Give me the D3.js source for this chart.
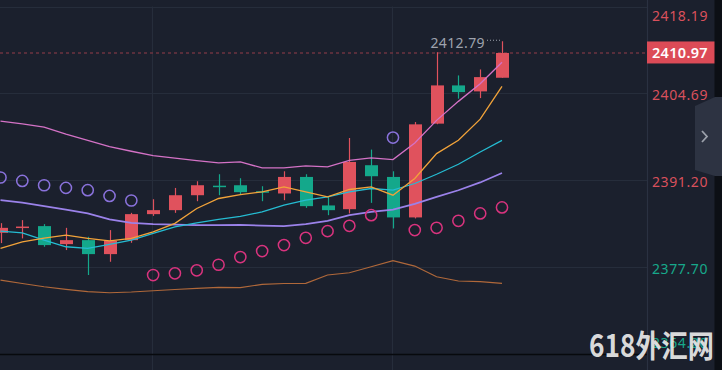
<!DOCTYPE html>
<html><head><meta charset="utf-8">
<script src="https://cdn.jsdelivr.net/npm/d3@7"></script>
<style>html,body{margin:0;padding:0;background:#1b202d;overflow:hidden}</style>
</head><body><svg id="c" width="722" height="370"></svg>
<script>
// ---- data ----
const categories = [0,1,2,3,4,5,6,7,8,9,10,11,12,13,14,15,16,17,18,19,20,21,22,23];
const open  = [2383.03,2383.90,2384.07,2381.27,2381.89,2379.72,2381.89,2385.93,2386.55,2388.87,2390.35,2390.42,2389.49,2389.14,2391.71,2387.28,2386.70,2393.53,2391.71,2385.42,2399.99,2405.93,2405.00,2407.12];
const high  = [2384.53,2385.00,2384.38,2383.80,2382.41,2383.45,2386.13,2388.25,2390.00,2391.04,2392.13,2391.51,2390.27,2392.59,2392.13,2388.61,2397.76,2395.96,2392.59,2400.24,2411.09,2407.48,2408.41,2412.79];
const low   = [2381.43,2382.16,2380.86,2380.35,2376.47,2378.53,2381.48,2385.66,2386.13,2387.94,2388.87,2389.03,2387.94,2388.10,2386.90,2385.77,2386.04,2387.68,2383.71,2385.26,2399.90,2403.87,2403.96,2407.12];
const close = [2383.80,2384.00,2381.12,2381.89,2379.72,2381.79,2385.93,2386.55,2388.87,2390.42,2390.22,2389.34,2389.36,2391.71,2387.17,2386.55,2394.04,2391.82,2385.42,2399.88,2405.93,2404.89,2407.22,2410.97];
const linePink   = [2400.39,2399.96,2399.46,2398.36,2397.40,2396.42,2395.70,2395.03,2394.64,2394.25,2393.88,2394.04,2393.11,2393.11,2393.42,2393.26,2394.30,2394.66,2394.41,2396.98,2400.50,2403.45,2406.19,2409.54];
const lineOrange = [2380.61,2381.63,2382.21,2382.67,2382.16,2381.79,2382.16,2383.18,2384.49,2386.81,2388.36,2388.95,2389.39,2390.16,2389.39,2388.61,2389.76,2390.16,2388.87,2391.46,2395.34,2397.40,2400.69,2405.77];
const lineCyan   = [2383.29,2383.03,2381.90,2380.86,2380.61,2381.23,2381.90,2382.93,2383.96,2384.58,2385.11,2385.57,2386.28,2387.32,2388.10,2388.61,2389.38,2389.91,2389.65,2390.69,2392.13,2393.68,2395.59,2397.40];
const linePurple = [2388.10,2387.71,2387.17,2386.62,2386.04,2385.11,2384.58,2384.38,2384.30,2384.22,2384.22,2384.25,2384.14,2384.07,2384.38,2384.89,2385.77,2386.28,2386.62,2387.52,2388.61,2389.65,2390.86,2392.33];
const lineBrown  = [2375.69,2375.15,2374.65,2374.25,2373.88,2373.72,2373.83,2374.03,2374.22,2374.41,2374.56,2374.50,2375.03,2375.15,2375.18,2376.47,2376.82,2377.76,2378.69,2377.86,2376.20,2375.54,2375.43,2375.18];
const sar        = [2391.62,2391.09,2390.42,2390.01,2389.65,2388.76,2388.05,2376.47,2376.73,2377.20,2378.07,2379.26,2380.19,2381.12,2382.25,2383.29,2384.11,2385.77,2397.82,2383.45,2383.80,2384.89,2386.04,2386.97];
const tickValues = [2418.19,2404.69,2391.20,2377.70,2364.20];
const tickLabels = ["2418.19","2404.69","2391.20","2377.70","2364.20"];
const lastPrice = 2410.97;
const highLabel = "2412.79";
const watermark = "618外汇网";

// ---- layout ----
const W = 722, H = 370, plotR = 647, plotT = 6.5, plotB = 354;
const svg = d3.select("#c");
const bg = "#1b202d", grid = "#262d3b";
const upC = "#e0525d", dnC = "#14a88b";

svg.append("rect").attr("width",W).attr("height",H).attr("fill",bg);

const x = d3.scalePoint().domain(categories).range([0.5, 502]);
const y = d3.scaleLinear().domain([2364.20, 2418.19]).range([plotB, plotT]);

// grid
const g = svg.append("g");
tickValues.forEach(v => {
  g.append("line").attr("x1",0).attr("x2",plotR).attr("y1",Math.round(y(v))+0.5).attr("y2",Math.round(y(v))+0.5)
   .attr("stroke",grid).attr("stroke-width",1.2);
});
[152, 392].forEach(px => {
  g.append("line").attr("x1",px+0.5).attr("x2",px+0.5).attr("y1",plotT).attr("y2",H)
   .attr("stroke",grid).attr("stroke-width",1.2);
});
// bottom axis line
svg.append("line").attr("x1",0).attr("x2",plotR).attr("y1",plotB+0.5).attr("y2",plotB+0.5)
  .attr("stroke","#07090d").attr("stroke-width",1.3);

// clip
svg.append("clipPath").attr("id","clip").append("rect").attr("x",0).attr("y",0).attr("width",plotR).attr("height",plotB);
const p = svg.append("g").attr("clip-path","url(#clip)");

// current price dashed line
p.append("line").attr("x1",0).attr("x2",plotR).attr("y1",y(lastPrice)).attr("y2",y(lastPrice))
  .attr("stroke","#6e3340").attr("stroke-width",1.5).attr("stroke-dasharray","3,3");

// candles
const cw = 13;
const cg = p.append("g");
categories.forEach((c,i) => {
  const up = close[i] >= open[i];
  const col = up ? upC : dnC;
  const cx = Math.round(x(c));
  cg.append("line").attr("x1",cx+0.5).attr("x2",cx+0.5).attr("y1",y(high[i])).attr("y2",y(low[i]))
    .attr("stroke",col).attr("stroke-width",1.2);
  const top = y(Math.max(open[i],close[i])), bot = y(Math.min(open[i],close[i]));
  cg.append("rect").attr("x",cx-6).attr("y",top).attr("width",cw).attr("height",Math.max(1.5,bot-top))
    .attr("fill",col);
});

// lines
const line = d3.line().x((d,i)=>x(categories[i])).y(d=>y(d));
[[lineBrown,"#b0683a",1.2],[linePurple,"#9b82ea",1.7],[lineCyan,"#25bcd2",1.3],[lineOrange,"#f2a33a",1.3],[linePink,"#d472c6",1.3]]
.forEach(([arr,col,w]) => {
  p.append("path").datum(arr).attr("d",line).attr("fill","none").attr("stroke",col).attr("stroke-width",w);
});

// SAR circles
categories.forEach((c,i) => {
  const above = sar[i] > close[i];
  p.append("circle").attr("cx",x(c)).attr("cy",y(sar[i])).attr("r",5.6)
    .attr("fill","none").attr("stroke", above ? "#8a72dc" : "#d9337e").attr("stroke-width",1.5);
});

// high annotation
const hi = d3.maxIndex(high);
const hx = Math.round(x(categories[hi]));
svg.append("line").attr("x1",487).attr("x2",hx).attr("y1",y(high[hi])-1).attr("y2",y(high[hi])-1)
  .attr("stroke","#9ea3ad").attr("stroke-width",1).attr("stroke-dasharray","1,2");
svg.append("text").attr("x",hx-17).attr("y",y(high[hi])+6.5).attr("text-anchor","end")
  .attr("font-family","Noto Sans, sans-serif").attr("font-size",14).attr("letter-spacing",0.4)
  .attr("fill","#9ea3ad").text(highLabel);

// right axis
svg.append("line").attr("x1",plotR+0.5).attr("x2",plotR+0.5).attr("y1",0).attr("y2",H)
  .attr("stroke","#2a3141").attr("stroke-width",1.2);
tickValues.forEach((v,i) => {
  const ty = Math.min(Math.max(y(v)+2, 16), 343);
  svg.append("text").attr("x",652).attr("y",ty).attr("dy","0.35em")
    .attr("font-family","Noto Sans, sans-serif").attr("font-size",14).attr("letter-spacing",0.6)
    .attr("fill", v > 2385 ? "#d9505c" : "#17a88b").text(tickLabels[i]);
});
// last price box
const ly = y(lastPrice);
svg.append("rect").attr("x",647).attr("y",ly-11.5).attr("width",68).attr("height",22).attr("fill","#dc4b57");
svg.append("text").attr("x",652).attr("y",ly).attr("dy","0.36em")
  .attr("font-family","Noto Sans, sans-serif").attr("font-size",14.5).attr("font-weight",600).attr("letter-spacing",0.3)
  .attr("fill","#ffffff").text(d3.format(".2f")(lastPrice));

// right dark strip
svg.append("rect").attr("x",714.5).attr("y",0).attr("width",8).attr("height",H).attr("fill","#0c0f15");
// collapse tab
svg.append("path").attr("d","M695,106 L715,97 L722,97 L722,176 L715,176 L695,170 Z").attr("fill","#2d3342");
svg.append("path").attr("d","M702,131 L707,136.5 L702,142").attr("fill","none").attr("stroke","#9ca1ab").attr("stroke-width",1.8);

// watermark
svg.append("text").attr("x",589).attr("y",357)
  .attr("font-family","Noto Sans CJK SC, sans-serif").attr("font-size",31).attr("font-weight",700)
  .attr("textLength",125).attr("lengthAdjust","spacingAndGlyphs")
  .attr("fill","#e6e6e6").attr("fill-opacity",0.96).text(watermark);
</script>
</body></html>
